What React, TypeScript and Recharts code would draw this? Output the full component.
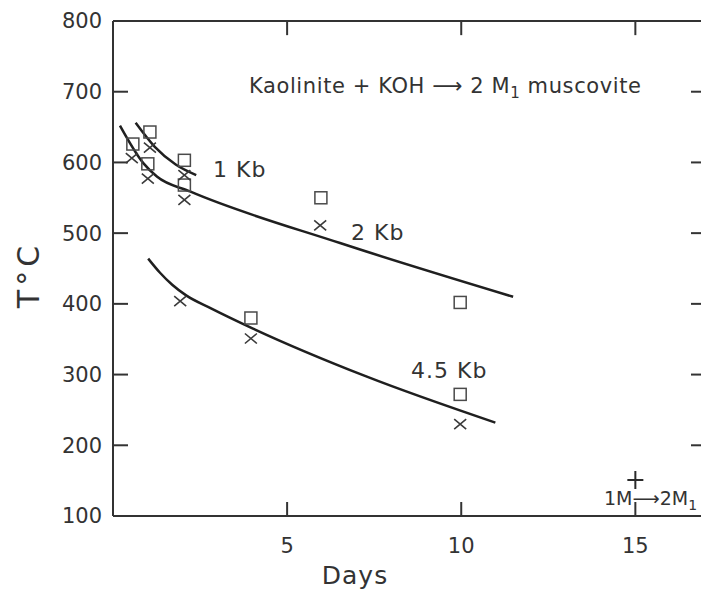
import React from 'react';
import { ComposedChart, Line, Scatter, XAxis, YAxis, ReferenceLine, Customized } from 'recharts';

const FONT = '"DejaVu Sans", "Noto Sans", sans-serif';
const INK = '#333333';
const LINE = '#1f1f1f';

// open squares (days, T °C)
const squarePoints = [
  { d: 0.57, t: 626 },
  { d: 1.06, t: 643 },
  { d: 1.0, t: 598 },
  { d: 2.05, t: 603 },
  { d: 2.05, t: 568 },
  { d: 5.97, t: 550 },
  { d: 3.96, t: 380 },
  { d: 9.97, t: 402 },
  { d: 9.97, t: 272 },
];

// crosses
const crossPoints = [
  { d: 0.54, t: 606 },
  { d: 1.06, t: 621 },
  { d: 1.0, t: 577 },
  { d: 2.05, t: 582 },
  { d: 2.05, t: 547 },
  { d: 5.95, t: 511 },
  { d: 1.93, t: 404 },
  { d: 3.96, t: 351 },
  { d: 9.97, t: 230 },
];

// 1M -> 2M1 transition marker
const plusPoints = [{ d: 15, t: 151 }];

// fitted curves
const curve1Kb = [
  { d: 0.65, t: 656 },
  { d: 1.2, t: 622 },
  { d: 1.8, t: 597 },
  { d: 2.39, t: 582 },
];
const curve2Kb = [
  { d: 0.2, t: 652 },
  { d: 0.87, t: 599 },
  { d: 1.26, t: 580 },
  { d: 2.21, t: 559 },
  { d: 6.52, t: 486 },
  { d: 11.49, t: 410 },
];
const curve45Kb = [
  { d: 1.01, t: 464 },
  { d: 1.35, t: 444 },
  { d: 1.7, t: 427 },
  { d: 2.1, t: 412 },
  { d: 2.8, t: 394 },
  { d: 4.02, t: 365 },
  { d: 7.29, t: 297 },
  { d: 10.98, t: 232 },
];

const dayTicks = [5, 10, 15];
const tempTicks = [100, 200, 300, 400, 500, 600, 700, 800];
const innerTempTicks = [200, 300, 400, 500, 600, 700];
const T_MAX = 800;
const TOP_TICK_LEN = 20; // in °C, ~14px

const Square = (props: any) => {
  const { cx, cy } = props;
  return <rect x={cx - 6} y={cy - 6} width={12} height={12} fill="none" stroke="#4a4a4a" strokeWidth={1.5} />;
};

const Cross = (props: any) => {
  const { cx, cy } = props;
  return (
    <path
      d={`M${cx - 6},${cy - 5}L${cx + 6},${cy + 5}M${cx - 6},${cy + 5}L${cx + 6},${cy - 5}`}
      stroke="#3a3a3a"
      strokeWidth={1.6}
      fill="none"
    />
  );
};

const Plus = (props: any) => {
  const { cx, cy } = props;
  return (
    <path
      d={`M${cx - 8},${cy}L${cx + 8},${cy}M${cx},${cy - 9}L${cx},${cy + 9}`}
      stroke="#2a2a2a"
      strokeWidth={2}
      fill="none"
    />
  );
};

const Nothing = () => null;

// frame axes carry tick marks only, no labels
const NoLabel = () => <g />;

const Annotations = () => (
  <g fontFamily={FONT} fill={INK}>
    <text x={249} y={93} fontSize={21} letterSpacing={0.6}>
      Kaolinite + KOH ⟶ 2 M<tspan dy={5} fontSize={15}>1</tspan>
      <tspan dy={-5}> muscovite</tspan>
    </text>
    <text x={213} y={177} fontSize={22} letterSpacing={1}>1 Kb</text>
    <text x={351} y={240} fontSize={22} letterSpacing={1}>2 Kb</text>
    <text x={411} y={378} fontSize={22} letterSpacing={1}>4.5 Kb</text>
    <text x={604} y={505} fontSize={19}>
      1M⟶2M<tspan dy={5} fontSize={14}>1</tspan>
    </text>
    <text x={355} y={584} fontSize={25} textAnchor="middle" letterSpacing={1}>Days</text>
    <text x={0} y={0} fontSize={30} textAnchor="middle" letterSpacing={4} transform="translate(39,275) rotate(-90)">T°C</text>
  </g>
);

export default function App() {
  return (
    <div style={{ position: 'absolute', left: 0, top: 0, width: 701, height: 590, overflow: 'hidden', background: '#fff' }}>
      <ComposedChart width={710} height={590} margin={{ top: 20, right: 4, bottom: 0, left: 33 }}>
        <XAxis
          xAxisId="bottom"
          dataKey="d"
          type="number"
          domain={[0, 17]}
          ticks={dayTicks}
          allowDataOverflow
          height={74}
          tickSize={-14}
          tickMargin={36}
          stroke="#333"
          strokeWidth={2}
          tick={{ fill: INK, fontSize: 21, fontFamily: FONT }}
        />
        <XAxis
          xAxisId="top"
          dataKey="d"
          orientation="top"
          type="number"
          domain={[0, 17]}
          ticks={dayTicks}
          allowDataOverflow
          height={1}
          tickLine={false}
          tick={NoLabel}
          stroke="#333"
          strokeWidth={2}
        />
        <YAxis
          yAxisId="left"
          type="number"
          domain={[100, 800]}
          ticks={tempTicks}
          allowDataOverflow
          width={80}
          tickSize={-15}
          tickMargin={26}
          stroke="#333"
          strokeWidth={2}
          tick={{ fill: INK, fontSize: 21, fontFamily: FONT }}
        />
        <YAxis
          yAxisId="right"
          orientation="right"
          type="number"
          domain={[100, 800]}
          ticks={innerTempTicks}
          interval={0}
          allowDataOverflow
          width={1}
          tickSize={-14}
          tick={NoLabel}
          stroke="#333"
          strokeWidth={2}
        />
        {/* inward tick marks on the top frame */}
        {dayTicks.map((d) => (
          <ReferenceLine
            key={`top-${d}`}
            xAxisId="bottom"
            yAxisId="left"
            segment={[{ x: d, y: T_MAX }, { x: d, y: T_MAX - TOP_TICK_LEN }]}
            stroke="#333"
            strokeWidth={2}
          />
        ))}
        <Line xAxisId="bottom" yAxisId="left" data={curve1Kb} dataKey="t" type="monotone" stroke={LINE} strokeWidth={2.5} dot={false} isAnimationActive={false} />
        <Line xAxisId="bottom" yAxisId="left" data={curve2Kb} dataKey="t" type="monotone" stroke={LINE} strokeWidth={2.5} dot={false} isAnimationActive={false} />
        <Line xAxisId="bottom" yAxisId="left" data={curve45Kb} dataKey="t" type="monotone" stroke={LINE} strokeWidth={2.5} dot={false} isAnimationActive={false} />
        <Scatter xAxisId="bottom" yAxisId="left" data={squarePoints} dataKey="t" shape={Square} isAnimationActive={false} />
        <Scatter xAxisId="bottom" yAxisId="left" data={crossPoints} dataKey="t" shape={Cross} isAnimationActive={false} />
        <Scatter xAxisId="bottom" yAxisId="left" data={plusPoints} dataKey="t" shape={Plus} isAnimationActive={false} />
        {/* invisible series so the frame axes (top / right) get drawn */}
        <Scatter xAxisId="top" yAxisId="right" data={plusPoints} dataKey="t" shape={Nothing} isAnimationActive={false} />
        <Customized component={Annotations} />
      </ComposedChart>
    </div>
  );
}
